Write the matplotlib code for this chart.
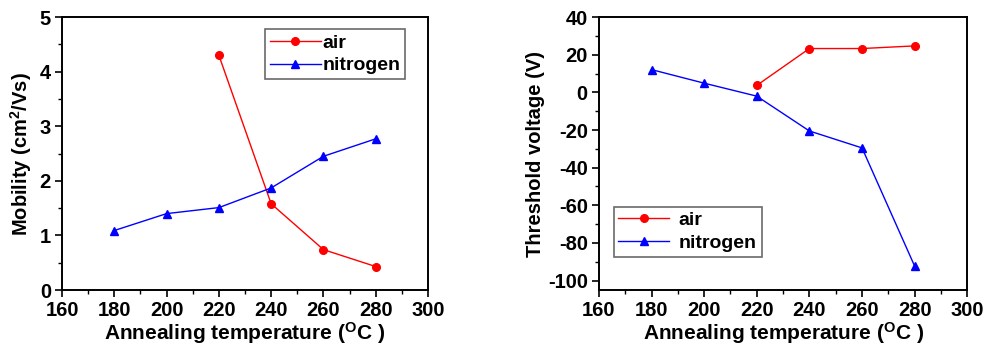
import matplotlib
matplotlib.use('Agg')
from matplotlib import pyplot as plt
from matplotlib.ticker import MultipleLocator

# temperatures (deg C)
temps_air = [220, 240, 260, 280]
temps_n2 = [180, 200, 220, 240, 260, 280]

# mobility (cm2/Vs)
mob_air = [4.30, 1.58, 0.74, 0.43]
mob_n2 = [1.09, 1.40, 1.51, 1.87, 2.45, 2.77]

# threshold voltage (V)
vth_air = [3.7, 23.3, 23.3, 24.7]
vth_n2 = [12.1, 4.9, -2.0, -20.5, -29.5, -92.3]

plt.rcParams['font.family'] = ['Liberation Sans', 'DejaVu Sans']
plt.rcParams['font.weight'] = 'bold'
plt.rcParams['axes.unicode_minus'] = False
plt.rcParams['mathtext.fontset'] = 'custom'
plt.rcParams['mathtext.rm'] = 'Liberation Sans:bold'
plt.rcParams['mathtext.default'] = 'rm'

fig = plt.figure(figsize=(9.85, 3.49), dpi=100)
ax1 = fig.add_axes([0.063, 0.169, 0.3715, 0.782])
ax2 = fig.add_axes([0.608, 0.169, 0.374, 0.782])


def style_axes(ax):
    for sp in ax.spines.values():
        sp.set_linewidth(1.4)
    ax.tick_params(axis='both', which='major', direction='out', length=5,
                   width=1.2, labelsize=14.5, top=False, right=False, pad=3)
    ax.tick_params(axis='both', which='minor', direction='out', length=3,
                   width=1.0, top=False, right=False)
    ax.set_xlim(160, 300)
    ax.xaxis.set_major_locator(MultipleLocator(20))
    ax.xaxis.set_minor_locator(MultipleLocator(10))
    ax.set_xlabel('Annealing temperature ($^{O}$C )', fontsize=15,
                  fontweight='bold', labelpad=0)
    for lab in ax.get_xticklabels() + ax.get_yticklabels():
        lab.set_fontweight('bold')


# left: mobility
ax1.plot(temps_air, mob_air, color='red', marker='o', markersize=5.5,
         linewidth=1, label='air')
ax1.plot(temps_n2, mob_n2, color='blue', marker='^', markersize=6,
         linewidth=1, label='nitrogen')
style_axes(ax1)
ax1.set_ylim(0, 5)
ax1.yaxis.set_major_locator(MultipleLocator(1))
ax1.yaxis.set_minor_locator(MultipleLocator(0.5))
ax1.set_ylabel('Mobility (cm$^{2}$/Vs)', fontsize=14.5, fontweight='bold',
               labelpad=4)
leg1 = ax1.legend(loc='upper left', bbox_to_anchor=(0.555, 0.955),
                  fontsize=14, fancybox=False, handlelength=2.6,
                  borderpad=0.25, labelspacing=0.25, handletextpad=0.1,
                  borderaxespad=0)
leg1.get_frame().set_edgecolor('#444444')
leg1.get_frame().set_linewidth(1.2)

# right: threshold voltage
ax2.plot(temps_air, vth_air, color='red', marker='o', markersize=5.5,
         linewidth=1, label='air')
ax2.plot(temps_n2, vth_n2, color='blue', marker='^', markersize=6,
         linewidth=1, label='nitrogen')
style_axes(ax2)
ax2.set_ylim(-105, 40)
ax2.yaxis.set_major_locator(MultipleLocator(20))
ax2.yaxis.set_minor_locator(MultipleLocator(10))
ax2.set_ylabel('Threshold voltage (V)', fontsize=14.5, fontweight='bold',
               labelpad=2)
leg2 = ax2.legend(loc='upper left', bbox_to_anchor=(0.04, 0.305),
                  fontsize=14, fancybox=False, handlelength=2.6,
                  borderpad=0.25, labelspacing=0.25, handletextpad=0.5,
                  borderaxespad=0)
leg2.get_frame().set_edgecolor('#444444')
leg2.get_frame().set_linewidth(1.2)

fig.savefig('out.png', dpi=100)
